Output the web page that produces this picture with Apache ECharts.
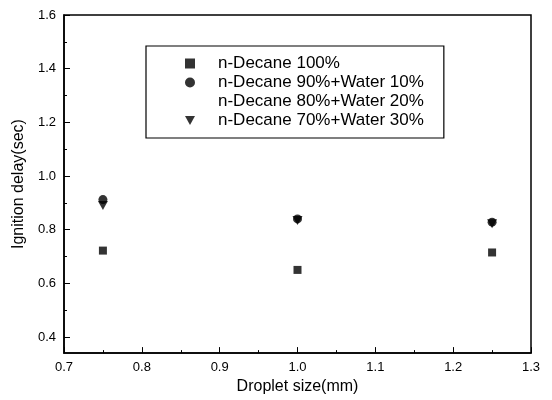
<!DOCTYPE html>
<html><head><meta charset="utf-8">
<script src="https://cdn.jsdelivr.net/npm/echarts@6/dist/echarts.min.js"></script>
<style>html,body{margin:0;padding:0;background:#fff}#c{width:552px;height:400px}</style>
</head><body><div id="c"></div>
<script>
const dropletSizes = [0.75, 1.0, 1.25];
const decane100 = [0.722, 0.650, 0.715];
const decane90 = [0.912, 0.840, 0.828];
const decane80 = [0.900, 0.838, 0.825];
const decane70 = [0.890, 0.834, 0.822];
const seriesNames = ['n-Decane 100%', 'n-Decane 90%+Water 10%', 'n-Decane 80%+Water 20%', 'n-Decane 70%+Water 30%'];
const yTickLabels = [0.4, 0.6, 0.8, 1.0, 1.2, 1.4, 1.6];
const yMinorTicks = [0.5, 0.7, 0.9, 1.1, 1.3, 1.5];

const pairs = arr => dropletSizes.map((x, i) => [x, arr[i]]);
const font = 'Liberation Sans, Arial, sans-serif';
const chart = echarts.init(document.getElementById('c'), null, {renderer: 'canvas'});
chart.setOption({
  animation: false,
  backgroundColor: '#fff',
  grid: {left: 64, right: 21, top: 15, bottom: 44, show: true, borderColor: '#000', borderWidth: 1.5},
  legend: {
    orient: 'vertical', left: 146, top: 46,
    padding: [9, 20, 9, 39],
    borderColor: '#000', borderWidth: 1.2,
    itemGap: 2, itemWidth: 10, itemHeight: 10,
    textStyle: {fontFamily: font, fontSize: 17, color: '#000', padding: [0, 0, 0, 18]},
    data: seriesNames
  },
  xAxis: {
    type: 'value', min: 0.7, max: 1.3, interval: 0.1,
    name: 'Droplet size(mm)', nameLocation: 'middle', nameGap: 20,
    nameTextStyle: {fontFamily: font, fontSize: 16, color: '#000'},
    axisLine: {lineStyle: {color: '#000', width: 1.5}},
    axisTick: {inside: true, length: 6, lineStyle: {color: '#000'}},
    minorTick: {show: true, splitNumber: 2, length: 3, lineStyle: {color: '#000'}},
    splitLine: {show: false},
    axisLabel: {fontFamily: font, fontSize: 13, color: '#000', margin: 8, formatter: v => v.toFixed(1)}
  },
  yAxis: [{
    type: 'value', min: 0.34, max: 1.6,
    name: 'Ignition delay(sec)', nameLocation: 'middle', nameGap: 32,
    nameTextStyle: {fontFamily: font, fontSize: 16, color: '#000'},
    axisLine: {lineStyle: {color: '#000', width: 1.5}},
    axisTick: {inside: true, length: 6, customValues: yTickLabels, lineStyle: {color: '#000'}},
    splitLine: {show: false},
    axisLabel: {fontFamily: font, fontSize: 13, color: '#000', margin: 8, customValues: yTickLabels, formatter: v => v.toFixed(1)}
  }, {
    type: 'value', min: 0.34, max: 1.6, position: 'left',
    axisLine: {show: false},
    axisTick: {inside: true, length: 3, customValues: yMinorTicks, lineStyle: {color: '#000'}},
    axisLabel: {show: false},
    splitLine: {show: false}
  }],
  series: [
    {name: seriesNames[0], type: 'scatter', data: pairs(decane100), symbol: 'rect', symbolSize: 8, itemStyle: {color: '#000'}},
    {name: seriesNames[1], type: 'scatter', data: pairs(decane90), symbol: 'circle', symbolSize: 9, itemStyle: {color: '#000'}},
    {name: seriesNames[2], type: 'scatter', data: pairs(decane80), symbol: 'none', symbolSize: 0, itemStyle: {color: '#000'}},
    {name: seriesNames[3], type: 'scatter', data: pairs(decane70), symbol: 'path://M0,0 L10,0 L5,9 Z', symbolSize: [10, 9], itemStyle: {color: '#000'}}
  ]
});
</script></body></html>
